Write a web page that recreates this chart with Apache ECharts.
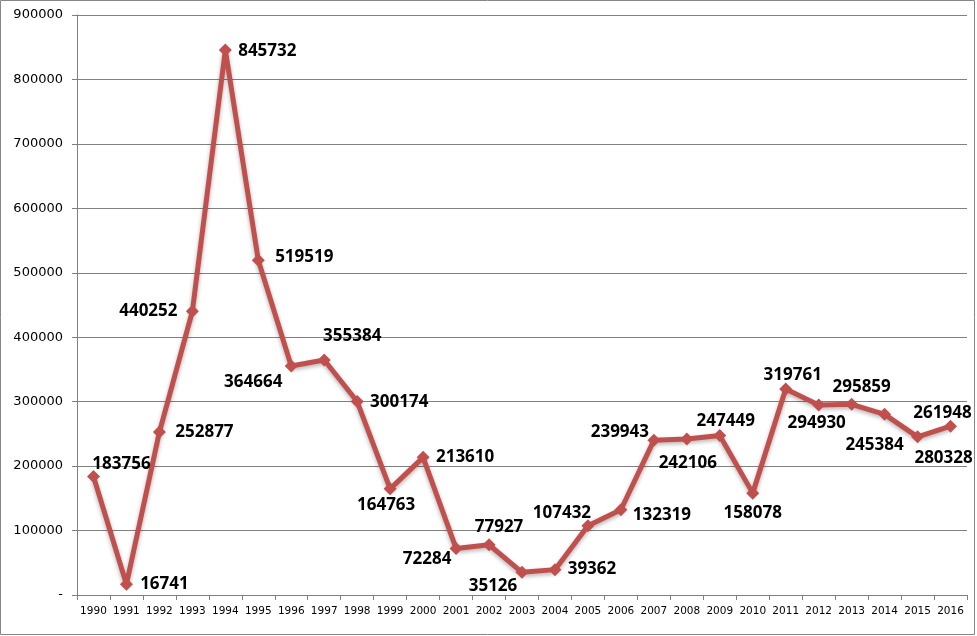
<!DOCTYPE html>
<html>
  <head>
    <meta charset="utf-8" />
    <title>ECharts</title>
    <script src="https://cdn.jsdelivr.net/npm/echarts@6/dist/echarts.min.js"></script>
    <style>
      html, body { margin: 0; padding: 0; background: #fff; }
      #main { width: 977px; height: 636px; }
    </style>
  </head>
  <body>
    <div id="main"></div>
    <script type="text/javascript">
// 年份与数值
let years = ['1990', '1991', '1992', '1993', '1994', '1995', '1996', '1997', '1998', '1999',
  '2000', '2001', '2002', '2003', '2004', '2005', '2006', '2007', '2008', '2009',
  '2010', '2011', '2012', '2013', '2014', '2015', '2016'];
let values = [183756, 16741, 252877, 440252, 845732, 519519, 355384, 364664, 300174, 164763,
  213610, 72284, 77927, 35126, 39362, 107432, 132319, 239943, 242106, 247449,
  158078, 319761, 294930, 295859, 280328, 245384, 261948];
let yTicks = { min: 0, max: 900000, interval: 100000 };

// 标签相对于点的偏移 (仅样式)
let labelOffsets = [
  [28, -12], [38, 0], [45, 0], [-44, 0], [42, 1], [46, -3], [61, -30], [-71, 22], [42, 1], [-4, 16],
  [42, 0], [-29, 11], [10, -18], [-29, 14], [37, 0], [-26, -13], [41, 5], [-34, -8], [1, 24], [6, -14],
  [0, 20], [7, -14], [-2, 18], [10, -17], [59, 44], [-43, 8], [-8, -13]
];

let seriesData = values.map(function (v, i) {
  return {
    value: v,
    label: { offset: labelOffsets[i] }
  };
});

var myChart = echarts.init(document.getElementById('main'));
option = {
  animation: false,
  backgroundColor: '#fff',
  graphic: [
    {
      type: 'rect',
      shape: { x: 0.5, y: 0.5, width: 974, height: 634 },
      style: { fill: 'none', stroke: '#868686', lineWidth: 1 },
      silent: true
    }
  ],
  grid: { left: 77, right: 10, top: 15, bottom: 41 },
  xAxis: {
    type: 'category',
    data: years,
    boundaryGap: true,
    axisLine: { lineStyle: { color: '#808080', width: 1 } },
    axisTick: { show: true, length: 5, lineStyle: { color: '#808080' } },
    axisLabel: {
      interval: 0,
      margin: 11,
      color: '#000',
      fontFamily: 'DejaVu Sans',
      fontSize: 10.5
    }
  },
  yAxis: {
    type: 'value',
    min: yTicks.min,
    max: yTicks.max,
    interval: yTicks.interval,
    axisLine: { show: true, lineStyle: { color: '#808080', width: 1 } },
    axisTick: { show: true, length: 5, lineStyle: { color: '#808080' } },
    splitLine: { lineStyle: { color: '#808080', width: 1 } },
    axisLabel: {
      margin: 14,
      color: '#000',
      fontFamily: 'DejaVu Sans',
      fontSize: 13,
      formatter: function (v) { return v === 0 ? '-' : String(v); }
    }
  },
  series: [
    {
      type: 'line',
      data: seriesData,
      symbol: 'diamond',
      symbolSize: 13,
      lineStyle: {
        color: '#C0504D',
        width: 5,
        shadowColor: 'rgba(0,0,0,0.3)',
        shadowBlur: 4,
        shadowOffsetY: 2
      },
      itemStyle: { color: '#C0504D' },
      label: {
        show: true,
        position: 'inside',
        color: '#000',
        fontFamily: 'Open Sans',
        fontWeight: 'bold',
        fontSize: 17
      }
    }
  ]
};
myChart.setOption(option);
    </script>
  </body>
</html>
